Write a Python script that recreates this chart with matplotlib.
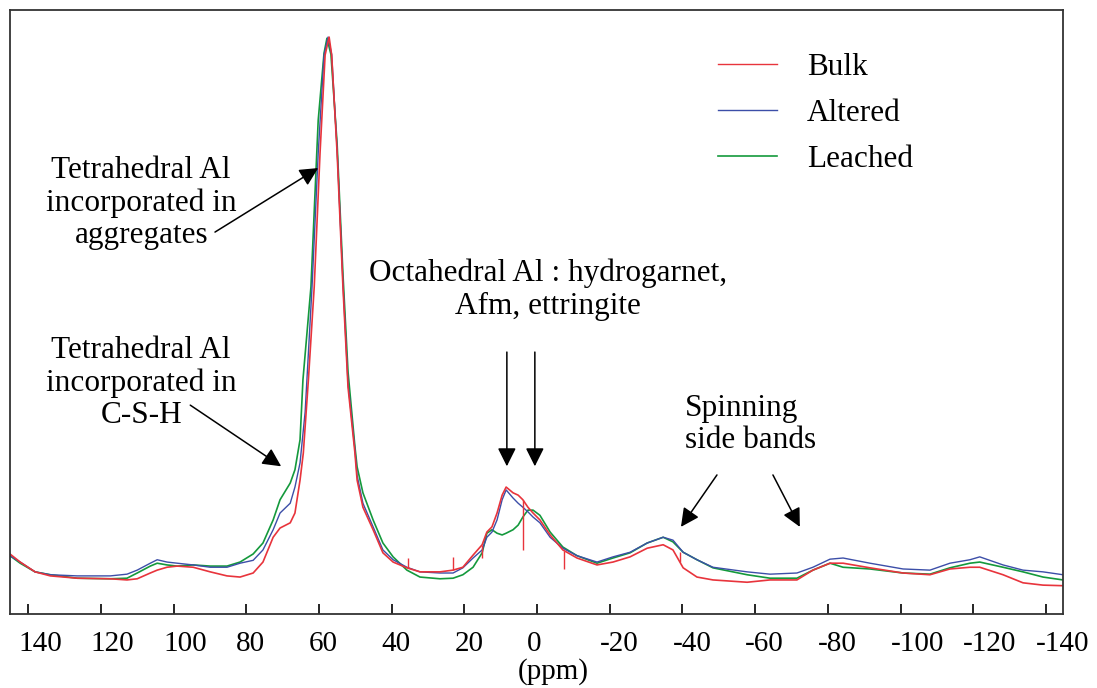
import matplotlib
matplotlib.use("Agg")
import matplotlib.pyplot as plt
import matplotlib.transforms as mtransforms
from matplotlib.lines import Line2D

# 27Al MAS NMR spectra, intensity scaled so the main peak is 100
bulk_ppm = [145, 142.2, 138.1, 133.9, 126.5, 117.4, 112.8, 110.0, 106.4, 104.5,
            101.8, 99.0, 94.6, 89.9, 85.3, 81.7, 78.1, 75.4, 72.6, 70.7,
            67.9, 66.6, 65.2, 64.3, 62.9, 61.3, 59.7, 58.3, 57.2, 56.5,
            55.0, 53.4, 52.0, 50.1, 49.5, 47.9, 45.1, 42.4, 39.6, 35.8,
            32.2, 26.7, 23.1, 20.4, 17.6, 15.1, 13.8, 12.4, 11.0, 9.6,
            8.5, 6.6, 5.2, 3.9, 2.5, 1.1, -0.8, -3.6, -7.1, -11.0,
            -16.5, -20.9, -25.6, -30.3, -34.7, -37.4, -40.2, -44.0, -48.4, -57.8,
            -64.1, -71.5, -75.9, -80.6, -84.2, -91.6, -100.7, -108.1, -113.6, -119.1,
            -121.8, -128.2, -133.7, -139.2, -144.7]
bulk_int = [10.4, 9.0, 7.3, 6.6, 6.2, 6.1, 5.9, 6.1, 7.1, 7.6,
            8.1, 8.3, 8.1, 7.3, 6.6, 6.4, 7.1, 9.0, 13.3, 14.9,
            15.8, 17.5, 23.2, 27.9, 40.6, 56.7, 79.9, 96.9, 100.0, 96.9,
            79.9, 56.7, 39.3, 27.9, 23.2, 18.5, 14.6, 10.6, 9.0, 8.0,
            7.3, 7.3, 7.6, 8.1, 10.2, 12.0, 14.2, 15.1, 17.5, 20.6,
            22.0, 21.0, 20.6, 19.8, 18.5, 17.5, 16.3, 13.7, 11.1, 9.7,
            8.5, 9.0, 9.9, 11.4, 12.0, 11.1, 8.0, 6.4, 5.9, 5.5,
            5.9, 5.9, 7.6, 8.8, 8.8, 8.0, 7.1, 6.8, 7.8, 8.1,
            8.1, 6.8, 5.4, 5.0, 4.9]

# narrow spikes on the bulk trace: position, base, tip
spike_ppm = [35.4, 23.1, 15.1, 3.9, -7.5, -39.3]
spike_base = [8.0, 7.6, 12.0, 19.8, 11.0, 9.0]
spike_tip = [9.7, 9.9, 9.7, 11.1, 7.8, 10.7]

altered_ppm = [145, 142.2, 138.1, 133.9, 126.5, 117.4, 112.8, 110.0, 106.4, 104.5,
               101.8, 99.0, 94.6, 89.9, 85.3, 81.7, 78.1, 75.4, 72.6, 70.7,
               67.9, 66.6, 65.2, 63.8, 61.9, 60.2, 58.6, 57.5, 56.5,
               55.0, 53.4, 52.0, 50.1, 49.5, 47.9, 45.1, 42.4, 39.6, 35.8,
               32.2, 26.7, 23.1, 20.4, 17.6, 15.1, 13.8, 12.4, 11.0, 9.6,
               8.5, 6.6, 5.2, 3.9, 2.5, 1.1, -0.8, -3.6, -7.1, -11.0,
               -16.5, -20.9, -25.6, -30.3, -34.7, -37.4, -40.2, -44.0, -48.4, -57.8,
               -64.1, -71.5, -75.9, -80.6, -84.2, -91.6, -100.7, -108.1, -113.6, -119.1,
               -121.8, -128.2, -133.7, -139.2, -144.7]
altered_int = [10.1, 9.0, 7.3, 6.8, 6.6, 6.6, 6.9, 7.6, 8.8, 9.4,
               9.0, 8.8, 8.5, 8.1, 8.1, 8.8, 9.3, 11.1, 14.6, 17.5,
               19.2, 22.0, 26.2, 35.0, 56.7, 79.9, 96.9, 100.0, 97.0,
               80.5, 57.5, 40.0, 28.5, 24.0, 19.2, 15.1, 11.1, 9.4, 8.1,
               7.3, 7.1, 7.1, 8.0, 9.7, 11.1, 13.3, 14.2, 16.3, 19.8,
               21.5, 20.1, 19.2, 18.5, 17.7, 16.8, 15.8, 13.3, 11.4, 10.1,
               9.0, 9.9, 10.7, 12.3, 13.3, 12.8, 10.7, 9.4, 8.1, 7.3,
               6.9, 7.1, 8.1, 9.5, 9.7, 8.8, 7.8, 7.6, 8.8, 9.4,
               9.9, 8.5, 7.6, 7.3, 6.8]

leached_ppm = [145, 142.2, 138.1, 133.9, 126.5, 117.4, 112.8, 110.0, 106.4, 104.5,
               101.8, 99.0, 94.6, 89.9, 85.3, 81.7, 78.1, 75.4, 72.6, 70.7,
               67.9, 66.6, 65.2, 64.4, 62.2, 60.6, 60.2, 58.6, 57.8, 56.7,
               55.0, 53.4, 52.0, 50.1, 49.5, 47.9, 45.1, 42.4, 39.6, 35.8,
               32.2, 26.7, 23.1, 20.4, 17.6, 15.1, 13.8, 12.4, 11.0, 9.6,
               8.5, 6.6, 5.2, 3.9, 2.5, 1.1, -0.8, -3.6, -7.1, -11.0,
               -16.5, -20.9, -25.6, -30.3, -34.7, -37.4, -40.2, -44.0, -48.4, -57.8,
               -64.1, -71.5, -75.9, -80.6, -84.2, -91.6, -100.7, -108.1, -113.6, -119.1,
               -121.8, -128.2, -133.7, -139.2, -144.7]
leached_int = [10.1, 8.8, 7.3, 6.8, 6.2, 6.1, 6.2, 7.1, 8.3, 8.8,
               8.5, 8.3, 8.5, 8.3, 8.3, 9.0, 10.4, 12.3, 16.3, 19.8,
               22.7, 25.0, 30.2, 40.6, 56.7, 79.9, 85.6, 97.2, 99.8, 97.0,
               81.5, 59.0, 42.0, 29.0, 25.5, 21.0, 16.3, 12.3, 9.9, 7.6,
               6.4, 6.1, 6.2, 6.8, 8.1, 10.6, 14.0, 14.6, 14.0, 13.7,
               14.0, 14.6, 15.4, 16.8, 18.0, 18.0, 17.1, 14.2, 11.6, 10.1,
               8.8, 9.7, 10.6, 12.3, 13.3, 12.5, 10.7, 9.4, 8.0, 6.8,
               6.2, 6.2, 7.6, 8.8, 8.1, 7.8, 7.1, 6.9, 8.0, 8.8,
               9.0, 8.1, 7.3, 6.4, 5.9]

xticks = [140, 120, 100, 80, 60, 40, 20, 0, -20, -40, -60, -80, -100, -120, -140]

RED = "#e8343c"
BLUE = "#3c4ea8"
GREEN = "#14993c"

plt.rcParams["font.family"] = ["Liberation Serif", "DejaVu Serif"]
plt.rcParams["axes.unicode_minus"] = False

fig = plt.figure(figsize=(10.97, 6.88), dpi=100)
ax = fig.add_axes([0.0091, 0.1076, 0.9599, 0.8779])

ax.plot(leached_ppm, leached_int, color=GREEN, lw=1.2)
ax.plot(altered_ppm, altered_int, color=BLUE, lw=1.0)
ax.plot(bulk_ppm, bulk_int, color=RED, lw=1.2)
ax.vlines(spike_ppm, spike_base, spike_tip, color=RED, lw=1.0)

ax.set_xlim(145, -144.7)
ax.set_ylim(0, 104.7)
ax.set_xticks(xticks)
ax.set_xticklabels([str(t) for t in xticks])
ax.set_yticks([])
ax.tick_params(axis="x", direction="in", length=7, width=1.2, pad=12,
               labelsize=21, colors="black")
# labels start a little left of their tick rather than centred on it
shift = mtransforms.ScaledTranslation(-0.10, 0, fig.dpi_scale_trans)
for lab in ax.get_xticklabels():
    lab.set_horizontalalignment("left")
    lab.set_transform(lab.get_transform() + shift)
for s in ax.spines.values():
    s.set_color("#333333")
    s.set_linewidth(1.3)

fig.text(553 / 1097, 1 - 672 / 688, "(ppm)", fontsize=21, ha="center", va="center")

fs = 22.5
arrow = dict(arrowstyle="-|>", color="black", lw=1.1, mutation_scale=28,
             shrinkA=0, shrinkB=0)

ax.text(108.9, 71.2, "Tetrahedral Al\nincorporated in\naggregates", ha="center",
        va="center", fontsize=fs, linespacing=1.15)
ax.annotate("", xy=(60.2, 77.3), xytext=(88.6, 66.2), arrowprops=arrow)

ax.text(108.9, 40.0, "Tetrahedral Al\nincorporated in\nC-S-H", ha="center",
        va="center", fontsize=fs, linespacing=1.15)
ax.annotate("", xy=(70.4, 25.6), xytext=(95.4, 36.2), arrowprops=arrow)

ax.text(-3.0, 56.2, "Octahedral Al : hydrogarnet,\nAfm, ettringite", ha="center",
        va="center", fontsize=fs, linespacing=1.15)
ax.annotate("", xy=(8.3, 25.6), xytext=(8.3, 45.4), arrowprops=arrow)
ax.annotate("", xy=(0.6, 25.6), xytext=(0.6, 45.4), arrowprops=arrow)

ax.text(-40.7, 32.8, "Spinning\nside bands", ha="left", va="center",
        fontsize=fs, linespacing=1.15)
ax.annotate("", xy=(-39.6, 15.1), xytext=(-49.5, 24.1), arrowprops=arrow)
ax.annotate("", xy=(-72.3, 15.1), xytext=(-64.9, 24.1), arrowprops=arrow)

handles = [Line2D([], [], color=RED, lw=1.0),
           Line2D([], [], color=BLUE, lw=1.0),
           Line2D([], [], color=GREEN, lw=1.2)]
ax.legend(handles, ["Bulk", "Altered", "Leached"], loc="upper left",
          bbox_to_anchor=(718 / 1097, 1 - 53 / 688), bbox_transform=fig.transFigure,
          frameon=False, fontsize=fs, handlelength=1.9, handletextpad=0.95,
          labelspacing=0.55, borderpad=0, borderaxespad=0)

fig.savefig("out.png", dpi=100)
